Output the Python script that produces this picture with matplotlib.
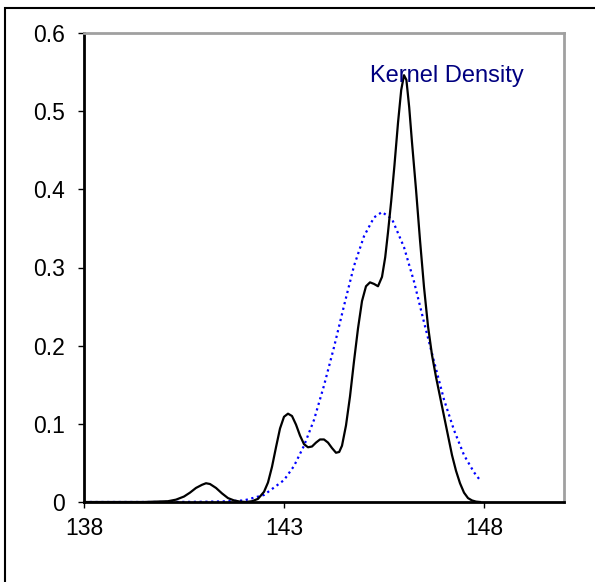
import matplotlib.pyplot as plt
from matplotlib.patches import Rectangle

plt.rcParams['font.family'] = ['Liberation Sans', 'DejaVu Sans']

# kernel density curve
kd_x = [138.0, 139.5, 140.1, 140.3, 140.5, 140.65, 140.8, 140.95, 141.05, 141.15,
        141.3, 141.45, 141.6, 141.75, 141.9, 142.05, 142.2, 142.35, 142.5, 142.6,
        142.7, 142.8, 142.9, 143.0, 143.1, 143.2, 143.3, 143.4, 143.5, 143.6,
        143.7, 143.8, 143.9, 144.0, 144.1, 144.2, 144.3, 144.38, 144.45, 144.55,
        144.65, 144.75, 144.85, 144.95, 145.05, 145.15, 145.25, 145.35, 145.45, 145.53,
        145.6, 145.68, 145.76, 145.85, 145.93, 146.0, 146.06, 146.13, 146.2, 146.3,
        146.4, 146.5, 146.6, 146.7, 146.8, 146.9, 147.0, 147.1, 147.2, 147.3,
        147.4, 147.5, 147.6, 147.7, 147.8, 147.9]
kd_y = [0.0, 0.0, 0.001, 0.003, 0.007, 0.012, 0.018, 0.022, 0.024, 0.023,
        0.018, 0.011, 0.005, 0.002, 0.0005, 0.0, 0.001, 0.004, 0.013, 0.025,
        0.045, 0.070, 0.094, 0.109, 0.113, 0.110, 0.099, 0.085, 0.074, 0.070,
        0.071, 0.076, 0.080, 0.080, 0.076, 0.069, 0.063, 0.064, 0.072, 0.098,
        0.135, 0.180, 0.222, 0.257, 0.276, 0.281, 0.279, 0.276, 0.288, 0.313,
        0.345, 0.385, 0.430, 0.485, 0.527, 0.546, 0.540, 0.505, 0.460, 0.400,
        0.335, 0.275, 0.225, 0.188, 0.160, 0.135, 0.110, 0.085, 0.060, 0.040,
        0.024, 0.012, 0.005, 0.002, 0.0005, 0.0]

# fitted normal curve (dotted)
nd_x = [138.0, 140.0, 141.0, 141.5, 142.0, 142.5, 143.0, 143.25, 143.5, 143.75,
        144.0, 144.25, 144.5, 144.75, 145.0, 145.25, 145.45, 145.7, 146.0, 146.25,
        146.5, 146.75, 147.0, 147.25, 147.5, 147.75, 147.9]
nd_y = [0.0, 0.0, 0.0003, 0.0008, 0.002, 0.009, 0.028, 0.046, 0.072, 0.105,
        0.149, 0.198, 0.251, 0.302, 0.340, 0.364, 0.371, 0.362, 0.326, 0.282,
        0.230, 0.180, 0.131, 0.092, 0.060, 0.038, 0.028]

x_ticks = [138, 143, 148]
y_ticks = [0, 0.1, 0.2, 0.3, 0.4, 0.5, 0.6]
y_labels = ['0', '0.1', '0.2', '0.3', '0.4', '0.5', '0.6']

fig = plt.figure(figsize=(5.95, 5.82), dpi=100)
ax = fig.add_axes([84 / 595, 80 / 582, 480 / 595, 469 / 582])

ax.plot(nd_x, nd_y, color='#0000ff', linestyle=(0, (1, 1.6)), lw=1.6)
ax.plot(kd_x, kd_y, color='black', lw=1.6)

ax.set_xlim(138, 150)
ax.set_ylim(0, 0.6)
ax.set_xticks(x_ticks)
ax.set_yticks(y_ticks)
ax.set_yticklabels(y_labels)
ax.tick_params(direction='out', length=4.5, width=1, labelsize=16.5)
ax.tick_params(axis='x', pad=6)
ax.tick_params(axis='y', pad=9)

for s in ['left', 'bottom']:
    ax.spines[s].set_linewidth(2)
    ax.spines[s].set_color('black')
for s in ['top', 'right']:
    ax.spines[s].set_linewidth(2)
    ax.spines[s].set_color('#a0a0a0')

ax.text(145.15, 0.537, 'Kernel Density', color='#000080', fontsize=17,
        ha='left', va='baseline')

# outer frame (cut off on right and bottom)
fig.patches.append(Rectangle((4.5 / 595, -0.1), 1.2, 1 - 7.5 / 582 + 0.1,
                             transform=fig.transFigure, fill=False,
                             edgecolor='black', lw=1.5))

fig.savefig('out.png', dpi=100)
